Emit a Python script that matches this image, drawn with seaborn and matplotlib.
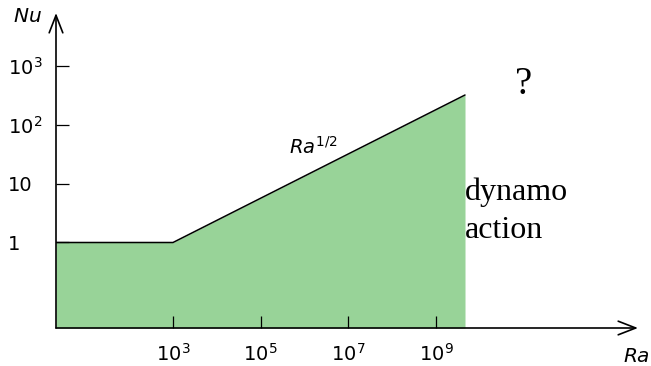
import matplotlib
matplotlib.use("Agg")
import matplotlib.pyplot as plt
from matplotlib.ticker import NullLocator
import seaborn as sns

# Regime sketch: Nusselt number against Rayleigh number
ra_points = [2.14, 1e3, 4.6e9]
nu_points = [1.0, 1.0, 321.0]
ra_ticks = [1e3, 1e5, 1e7, 1e9]
ra_tick_labels = [r"$10^{3}$", r"$10^{5}$", r"$10^{7}$", r"$10^{9}$"]
nu_ticks = [1, 10, 100, 1000]
nu_tick_labels = ["1", "10", r"$10^{2}$", r"$10^{3}$"]

sns.set_style("white")
plt.rcParams["font.family"] = ["DejaVu Sans"]
plt.rcParams["mathtext.fontset"] = "dejavusans"
plt.rcParams["text.color"] = "black"

W, H = 651, 366
fig = plt.figure(figsize=(W / 100, H / 100), dpi=100)

# axes box in pixels: origin at (56, 328), arrow tips at x=638 and y=13
px0, py0, px1, py1 = 56, 328, 638, 13
ax = fig.add_axes([px0 / W, 1 - py0 / H, (px1 - px0) / W, (py0 - py1) / H])
ax.set_axisbelow(False)
ax.set_xscale("log")
ax.set_yscale("log")
ax.set_xlim(ra_points[0], 10 ** 13.61)
ax.set_ylim(10 ** -1.453, 10 ** 3.90)

green = "#98d398"
ax.fill_between(ra_points, nu_points, ax.get_ylim()[0], color=green, lw=0, zorder=1)
sns.lineplot(x=ra_points, y=nu_points, ax=ax, color="black", lw=1.1, zorder=3)

for s in ax.spines.values():
    s.set_visible(False)

arrow = dict(arrowstyle="->,head_length=0.9,head_width=0.35", lw=1.2,
             color="black", shrinkA=0, shrinkB=0, mutation_scale=14)
ax.annotate("", xy=(1, 0), xytext=(0, 0), xycoords="axes fraction",
            arrowprops=arrow, annotation_clip=False, zorder=5)
ax.annotate("", xy=(0, 1), xytext=(0, 0), xycoords="axes fraction",
            arrowprops=arrow, annotation_clip=False, zorder=5)

ax.set_xticks(ra_ticks)
ax.set_xticklabels(ra_tick_labels)
ax.set_yticks(nu_ticks)
ax.set_yticklabels(nu_tick_labels)
ax.xaxis.set_minor_locator(NullLocator())
ax.yaxis.set_minor_locator(NullLocator())
ax.tick_params(axis="both", which="major", bottom=True, left=True,
               direction="in", length=9, width=0.9,
               color="black", labelcolor="black", labelsize=14)
ax.tick_params(axis="x", pad=11)
ax.tick_params(axis="y", pad=34.5)
for lab in ax.get_yticklabels():
    lab.set_horizontalalignment("left")
ax.set_xlabel("")
ax.set_ylabel("")

def fpos(x, y):
    return x / W, 1 - y / H

fig.text(*fpos(27, 17), r"$Nu$", ha="center", va="center", fontsize=14.5)
fig.text(*fpos(623, 357), r"$Ra$", ha="left", va="center", fontsize=14.5)
fig.text(*fpos(313, 147), r"$Ra^{1/2}$", ha="center", va="center", fontsize=14)
fig.text(*fpos(524, 84), "?", ha="center", va="center", fontsize=28,
         family="Liberation Serif")
fig.text(*fpos(465, 200), "dynamo", ha="left", va="baseline", fontsize=23,
         family="Liberation Serif")
fig.text(*fpos(465, 238), "action", ha="left", va="baseline", fontsize=23,
         family="Liberation Serif")

fig.savefig("out.png", dpi=100)
